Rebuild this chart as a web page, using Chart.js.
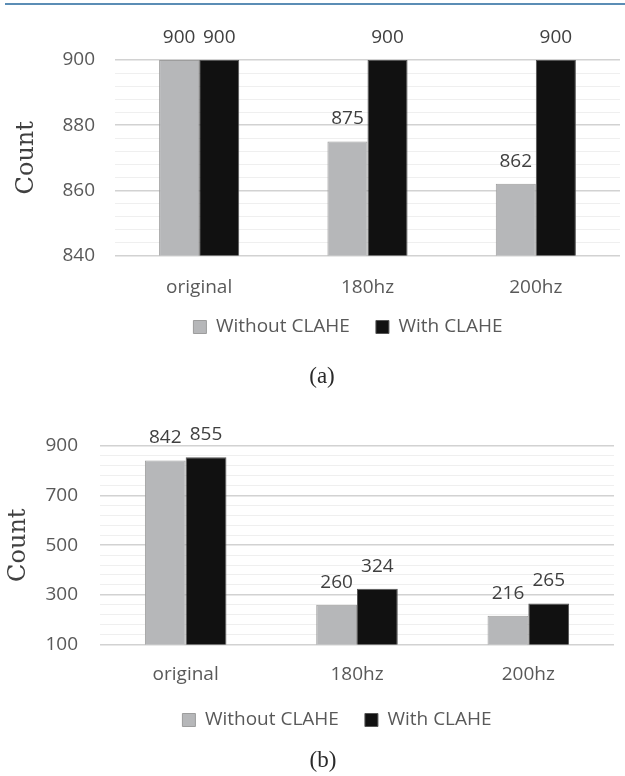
<!DOCTYPE html>
<html>
<head>
<meta charset="utf-8">
<script src="https://cdn.jsdelivr.net/npm/chart.js@4.4.1/dist/chart.umd.min.js"></script>
<style>
  html, body { margin: 0; padding: 0; background: #ffffff; overflow: hidden; }
  body { width: 625px; height: 776px; position: relative; }
  #rule { position: absolute; left: 5px; right: 0; top: 3px; height: 2px; background: #5b8db5; z-index: 2; }
  #cA { position: absolute; left: 0; top: 0; }
  #cB { position: absolute; left: 0; top: 400px; }
</style>
</head>
<body>
<div id="rule"></div>
<canvas id="cA" width="625" height="410"></canvas>
<canvas id="cB" width="625" height="376"></canvas>
<script>
// ---- data ----
const categories = ['original', '180hz', '200hz'];
const seriesNames = ['Without CLAHE', 'With CLAHE'];
const withoutA = [900, 875, 862];
const withA = [900, 900, 900];
const withoutB = [842, 260, 216];
const withB = [855, 324, 265];
const yTicksA = [840, 860, 880, 900];
const yTicksB = [100, 300, 500, 700, 900];
const captionA = '(a)';
const captionB = '(b)';
const yTitle = 'Count';

// ---- styles ----
const SANS = '"Open Sans", "Noto Sans", sans-serif';
const TXT = '#595959';
const grayFill = '#b6b7b9', grayLine = '#9d9d9d';
const blackFill = '#111111', blackLine = '#555555';

const valueLabels = {
  id: 'valueLabels',
  afterDatasetsDraw(chart) {
    const ctx = chart.ctx;
    ctx.save();
    ctx.font = '19px ' + SANS;
    ctx.fillStyle = '#404040';
    ctx.textAlign = 'center';
    ctx.textBaseline = 'alphabetic';
    chart.data.datasets.forEach((ds, i) => {
      chart.getDatasetMeta(i).data.forEach((el, j) => {
        ctx.fillText(String(ds.data[j]), el.x, el.y - 17);
      });
    });
    ctx.restore();
  }
};

const shiftBoxes = {
  id: 'shiftBoxes',
  afterLayout(chart, args, opts) {
    const l = chart.legend, t = chart.titleBlock;
    if (l) { l.left += opts.legendDx; l.right += opts.legendDx; l.top += opts.legendDy; l.bottom += opts.legendDy; }
    if (t) { t.left += opts.titleDx; t.right += opts.titleDx; t.top += opts.titleDy; t.bottom += opts.titleDy; }
  }
};

function makeChart(id, d1, d2, yTicks, step, caption, cfg) {
  const majors = yTicks;
  return new Chart(document.getElementById(id), {
    type: 'bar',
    data: {
      labels: categories,
      datasets: [
        { label: seriesNames[0], data: d1, backgroundColor: grayFill, borderColor: grayLine, borderWidth: 1, borderSkipped: 'start' },
        { label: seriesNames[1], data: d2, backgroundColor: blackFill, borderColor: blackLine, borderWidth: 1, borderSkipped: 'start' }
      ]
    },
    options: {
      responsive: false,
      animation: false,
      events: [],
      datasets: { bar: { categoryPercentage: 0.476, barPercentage: 1.0 } },
      layout: { padding: { top: cfg.padTop, left: 0, right: cfg.padRight, bottom: 0 } },
      scales: {
        x: {
          grid: { display: false, drawTicks: false },
          border: { display: false },
          ticks: { color: TXT, font: { family: SANS, size: 19, lineHeight: 1.2 }, padding: cfg.xPad, maxRotation: 0 }
        },
        y: {
          min: yTicks[0],
          max: yTicks[yTicks.length - 1],
          afterFit(scale) { scale.width = cfg.yWidth; },
          border: { display: false },
          grid: {
            drawTicks: false,
            color: (c) => majors.includes(c.tick && c.tick.value) ? '#d2d2d2' : '#efefef',
            lineWidth: (c) => majors.includes(c.tick && c.tick.value) ? 1.5 : 1
          },
          ticks: {
            stepSize: step,
            autoSkip: false,
            padding: cfg.yPad,
            color: TXT,
            font: { family: SANS, size: 19 },
            callback: (v) => majors.includes(v) ? String(v) : ''
          },
          title: {
            display: true,
            text: yTitle,
            color: '#404040',
            font: { family: '"DejaVu Serif", serif', size: 24, lineHeight: 1.2 },
            padding: { top: cfg.titlePad, bottom: 0 }
          }
        }
      },
      plugins: {
        tooltip: { enabled: false },
        legend: {
          position: 'bottom',
          labels: {
            color: TXT,
            font: { family: SANS, size: 19 },
            boxWidth: 13,
            boxHeight: 13,
            padding: 26
          }
        },
        title: {
          display: true,
          position: 'bottom',
          text: caption,
          color: '#2a2a2a',
          font: { family: '"Liberation Serif", serif', size: 23, weight: 'normal', lineHeight: 1.2 },
          padding: { top: 0, bottom: cfg.capBottom }
        },
        shiftBoxes: { legendDx: cfg.legendDx, titleDx: cfg.titleDx, legendDy: cfg.legendDy, titleDy: cfg.titleDy }
      }
    },
    plugins: [valueLabels, shiftBoxes]
  });
}

makeChart('cA', withoutA, withA, yTicksA, 4, captionA, {
  padTop: 60, padRight: 5, xPad: 20.5, yWidth: 115, yPad: 20, titlePad: 12,
  capBottom: 8.1, legendDx: 38, titleDx: 12, legendDy: -27.8, titleDy: -11.1
});
makeChart('cB', withoutB, withB, yTicksB, 40, captionB, {
  padTop: 46, padRight: 11, xPad: 18.6, yWidth: 100, yPad: 22, titlePad: 4.5,
  capBottom: -11, legendDy: -19.9, titleDy: -12.2, legendDx: 30, titleDx: 16
});
</script>
</body>
</html>
